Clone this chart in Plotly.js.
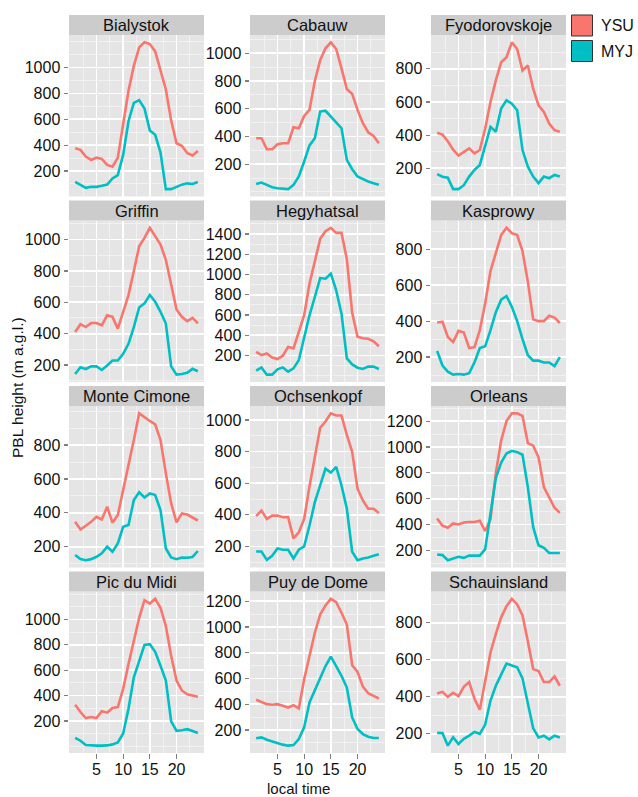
<!DOCTYPE html>
<html><head><meta charset="utf-8">
<script src="https://cdn.plot.ly/plotly-3.0.1.min.js"></script>
<style>html,body{margin:0;padding:0;background:#fff}#chart{width:638px;height:797px}</style>
</head><body><div id="chart"></div><script>
const hours = [1,2,3,4,5,6,7,8,9,10,11,12,13,14,15,16,17,18,19,20,21,22,23,24];
const sites = ["Bialystok","Cabauw","Fyodorovskoje","Griffin","Hegyhatsal","Kasprowy","Monte Cimone","Ochsenkopf","Orleans","Pic du Midi","Puy de Dome","Schauinsland"];
const seriesNames = ["YSU","MYJ"];
const xTicks = [5,10,15,20];

const ysuBialystok = [377,364,312,286,304,294,247,234,304,560,820,1013,1156,1195,1182,1125,987,831,590,415,395,340,320,355];
const myjBialystok = [117,96,70,78,78,86,96,143,169,325,585,727,748,683,514,480,343,60,60,78,95,105,100,115];
const ysuCabauw = [387,387,308,308,344,351,351,466,459,548,591,800,950,1035,1078,1030,891,742,706,591,495,430,404,351];
const myjCabauw = [58,68,51,34,27,22,20,51,111,219,335,387,579,585,543,507,459,231,164,111,92,75,63,51];
const ysuFyodorovskoje = [414,403,363,312,277,300,320,290,310,440,600,730,840,870,960,920,790,820,680,580,540,470,430,420];
const myjFyodorovskoje = [165,149,143,74,74,98,150,190,220,330,450,420,560,610,590,550,310,210,150,110,150,140,160,150];
const ysuGriffin = [410,460,442,468,468,453,517,507,432,540,646,800,957,1011,1075,1022,968,871,721,554,507,480,500,465];
const myjGriffin = [142,185,174,191,191,168,196,228,228,271,335,442,567,593,646,603,539,464,191,138,142,150,175,160];
const ysuHegyhatsal = [236,203,220,180,164,197,285,269,433,597,908,1138,1351,1427,1460,1410,1410,1150,620,385,370,365,340,290];
const myjHegyhatsal = [49,82,10,10,62,82,39,72,154,384,597,777,964,958,1007,843,613,170,111,79,66,89,89,66];
const ysuKasprowy = [393,397,312,284,346,337,250,255,350,500,680,780,880,920,890,880,790,620,410,400,400,430,420,390];
const myjKasprowy = [234,153,119,102,106,102,110,170,250,260,350,450,520,540,480,400,300,210,180,180,170,170,150,200];
const ysuMonteCimone = [347,302,324,347,377,361,436,342,387,530,680,830,987,963,942,922,829,633,456,344,397,390,370,355];
const myjMonteCimone = [151,127,121,127,141,161,200,171,220,318,328,475,521,491,515,505,416,190,137,127,137,135,140,175];
const ysuOchsenkopf = [391,427,374,395,395,385,385,251,289,374,580,770,950,990,1042,1028,1028,905,798,565,491,438,438,412];
const myjOchsenkopf = [168,168,115,141,187,179,179,124,179,200,332,480,586,692,667,703,586,438,166,113,124,130,141,151];
const ysuOrleans = [447,391,375,409,401,416,420,420,430,350,440,800,1050,1200,1260,1260,1240,1030,1010,920,690,610,530,490];
const myjOrleans = [169,164,125,138,151,143,160,160,160,210,500,760,880,950,970,960,940,690,380,240,220,180,180,180];
const ysuPicDuMidi = [328,270,223,231,223,276,265,302,309,453,648,844,1013,1151,1125,1162,1091,948,713,518,440,410,400,390];
const myjPicDuMidi = [67,44,10,5,5,5,7,15,31,101,296,544,674,799,805,745,635,518,197,122,127,135,120,105];
const ysuPuyDeDome = [435,419,401,396,401,388,375,393,368,594,775,955,1097,1166,1218,1192,1110,1019,703,651,538,486,465,445];
const myjPuyDeDome = [136,143,125,112,100,87,79,84,130,221,414,504,607,697,770,697,620,530,298,208,169,148,138,138];
const ysuSchauinsland = [418,427,400,422,404,454,480,390,330,480,640,740,830,890,930,900,840,700,550,540,480,480,510,460];
const myjSchauinsland = [205,204,136,182,145,173,190,210,200,250,380,460,520,580,570,560,500,370,230,180,190,170,190,180];

const ysuAll = [ysuBialystok,ysuCabauw,ysuFyodorovskoje,ysuGriffin,ysuHegyhatsal,ysuKasprowy,ysuMonteCimone,ysuOchsenkopf,ysuOrleans,ysuPicDuMidi,ysuPuyDeDome,ysuSchauinsland];
const myjAll = [myjBialystok,myjCabauw,myjFyodorovskoje,myjGriffin,myjHegyhatsal,myjKasprowy,myjMonteCimone,myjOchsenkopf,myjOrleans,myjPicDuMidi,myjPuyDeDome,myjSchauinsland];

const W = 638, H = 797;
const colL = [69, 250, 431], colW = 135;
const rowT = [15, 200.5, 386, 571.5], stripH = 20, panH = 161.5;
const colors = ["#F8766D", "#00BFC4"];
const FONT = "Liberation Sans, Arial, Helvetica, sans-serif";
const TXT = "#111111";

const data = [];
const layout = {
  width: W, height: H,
  margin: {l: 0, r: 0, t: 0, b: 0},
  paper_bgcolor: "#ffffff",
  plot_bgcolor: "#E5E5E5",
  showlegend: false,
  font: {family: FONT, size: 16, color: TXT},
  shapes: [], annotations: []
};

sites.forEach((name, i) => {
  const r = Math.floor(i / 3), c = i % 3;
  const sfx = i === 0 ? "" : String(i + 1);
  const xa = "x" + sfx, ya = "y" + sfx;
  const ys = ysuAll[i], ms = myjAll[i];
  [ys, ms].forEach((vals, k) => {
    data.push({x: hours, y: vals, type: "scatter", mode: "lines", name: seriesNames[k],
      xaxis: xa, yaxis: ya, line: {color: colors[k], width: 2.6}, hoverinfo: "skip"});
  });
  const all = ys.concat(ms);
  const mn = Math.min(...all), mx = Math.max(...all);
  const pad = (mx - mn) * 0.05;
  const tv = [];
  for (let v = Math.ceil(mn / 200) * 200; v <= mx; v += 200) tv.push(v);
  const x0 = colL[c], x1 = colL[c] + colW;
  const top = rowT[r] + stripH, bot = top + panH;
  const bottomRow = r === 3;
  layout["xaxis" + sfx] = {
    domain: [x0 / W, x1 / W], anchor: ya, range: [-0.15, 25.15],
    tickmode: "array", tickvals: xTicks, showticklabels: bottomRow,
    ticks: bottomRow ? "outside" : "", ticklen: 4.5, tickwidth: 1.2, tickcolor: "#7f7f7f",
    ticklabelstandoff: -3,
    showgrid: true, gridcolor: "#ffffff", gridwidth: 1.8, zeroline: false, showline: false,
    minor: {tickmode: "linear", tick0: 0, dtick: 2.5, showgrid: true, gridcolor: "#F2F2F2", gridwidth: 0.9, ticks: ""},
    tickfont: {family: FONT, size: 16, color: TXT}, fixedrange: true
  };
  layout["yaxis" + sfx] = {
    domain: [1 - bot / H, 1 - top / H], anchor: xa, range: [mn - pad, mx + pad],
    tickmode: "array", tickvals: tv, ticktext: tv.map(String),
    ticks: "outside", ticklen: 4.5, tickwidth: 1.2, tickcolor: "#7f7f7f",
    showgrid: true, gridcolor: "#ffffff", gridwidth: 1.8, zeroline: false, showline: false,
    minor: {tickmode: "linear", tick0: 0, dtick: 100, showgrid: true, gridcolor: "#F2F2F2", gridwidth: 0.9, ticks: ""},
    tickfont: {family: FONT, size: 16, color: TXT}, fixedrange: true
  };
  layout.shapes.push({type: "rect", xref: "paper", yref: "paper",
    x0: x0 / W, x1: x1 / W, y0: 1 - (rowT[r] + stripH) / H, y1: 1 - rowT[r] / H,
    fillcolor: "#CCCCCC", line: {width: 0}, layer: "below"});
  layout.annotations.push({xref: "paper", yref: "paper", x: (x0 + x1) / 2 / W, y: 1 - (rowT[r] + stripH / 2) / H,
    text: name, showarrow: false, xanchor: "center", yanchor: "middle",
    font: {family: FONT, size: 16.5, color: TXT}});
});

// axis titles
layout.annotations.push({xref: "paper", yref: "paper", x: 298 / W, y: 1 - 788 / H, text: "local time",
  showarrow: false, xanchor: "center", yanchor: "middle", font: {family: FONT, size: 15, color: TXT}});
layout.annotations.push({xref: "paper", yref: "paper", x: 18 / W, y: 1 - 388 / H, text: "PBL height (m a.g.l.)",
  showarrow: false, textangle: -90, xanchor: "center", yanchor: "middle", font: {family: FONT, size: 15.5, color: TXT}});

// legend
seriesNames.forEach((nm, k) => {
  const ky = 15 + k * 25.5;
  layout.shapes.push({type: "rect", xref: "paper", yref: "paper",
    x0: 571.5 / W, x1: 592.5 / W, y0: 1 - (ky + 21) / H, y1: 1 - ky / H,
    fillcolor: colors[k], line: {color: "#333333", width: 1}});
  layout.annotations.push({xref: "paper", yref: "paper", x: 599 / W, y: 1 - (ky + 10.5) / H, text: nm,
    showarrow: false, xanchor: "left", yanchor: "middle", font: {family: FONT, size: 16, color: TXT}});
});

Plotly.newPlot("chart", data, layout, {staticPlot: true, displayModeBar: false});
</script></body></html>
